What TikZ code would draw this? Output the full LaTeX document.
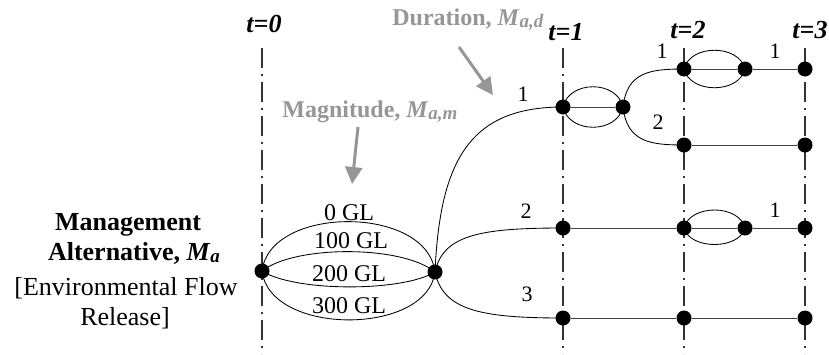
\documentclass[tikz,border=0pt]{standalone}
\usepackage{fontspec}
\setmainfont{Liberation Serif}
\usetikzlibrary{arrows.meta,backgrounds}
\definecolor{lblgray}{RGB}{150,150,150}
\newcommand{\subbi}[1]{\raisebox{-2pt}{\fontsize{19}{19}\selectfont\textbf{\textit{#1}}}}
\begin{document}
\begin{tikzpicture}[x=1pt,y=-1pt,
  dot/.style={circle,fill=black,inner sep=0pt,minimum size=15pt},
  curve/.style={line width=0.85pt,black},
  straight/.style={line width=1pt,black!75},
  timeline/.style={line width=1.1pt,black!80,dash pattern=on 20pt off 6pt on 2pt off 6pt},
  garrow/.style={line width=3pt,lblgray,-{Triangle[length=17pt,width=17pt]}},
  lbl/.style={font=\fontsize{24}{24}\selectfont,anchor=base,inner sep=0pt},
  num/.style={font=\fontsize{22}{22}\selectfont,anchor=base,inner sep=0pt},
  tlbl/.style={font=\fontsize{26}{26}\selectfont\bfseries\itshape,anchor=base,inner sep=0pt},
  lefttxt/.style={font=\fontsize{26}{26}\selectfont,anchor=base,inner sep=0pt},
  leftbold/.style={font=\fontsize{26}{26}\selectfont\bfseries,anchor=base,inner sep=0pt},
  graytxt/.style={font=\fontsize{24}{24}\selectfont\bfseries,text=lblgray,anchor=base,inner sep=0pt}
]
\useasboundingbox (0,0) rectangle (829,354);

% nodes
\node[dot] (A) at (262,271) {};
\node[dot] (B) at (435,272) {};
\node[dot] (C1) at (563,107) {};
\node[dot] (C2) at (623,107) {};
\node[dot] (D1) at (684,69) {};
\node[dot] (D2) at (745,69) {};
\node[dot] (D3) at (805,69) {};
\node[dot] (E1) at (684,145) {};
\node[dot] (E2) at (805,145) {};
\node[dot] (F1) at (563,228) {};
\node[dot] (F2) at (684,228) {};
\node[dot] (F3) at (745,228) {};
\node[dot] (F4) at (805,228) {};
\node[dot] (G1) at (563,318) {};
\node[dot] (G2) at (684,318) {};
\node[dot] (G3) at (805,318) {};

% timeline coordinates
\coordinate (T0t) at (262,48);
\coordinate (T0b) at (262,354);
\coordinate (T1t) at (563,48);
\coordinate (T1b) at (563,354);
\coordinate (T2t) at (684,48);
\coordinate (T2b) at (684,354);
\coordinate (T3t) at (805,48);
\coordinate (T3b) at (805,354);

\begin{pgfonlayer}{background}
  \draw[timeline] (T0t) -- (T0b);
  \draw[timeline] (T1t) -- (T1b);
  \draw[timeline] (T2t) -- (T2b);
  \draw[timeline] (T3t) -- (T3b);

  % magnitude arcs
  \draw[curve] (A.center) .. controls (270,205) and (427,205) .. (B.center);
  \draw[curve] (A.center) .. controls (295,245) and (402,245) .. (B.center);
  \draw[curve] (A.center) .. controls (295,292) and (402,292) .. (B.center);
  \draw[curve] (A.center) .. controls (270,336) and (427,336) .. (B.center);

  % branches from B
  \draw[curve] (B.center) .. controls (440,160) and (470,107) .. (C1.center);
  \draw[curve] (B.center) .. controls (443,235) and (480,228) .. (F1.center);
  \draw[curve] (B.center) .. controls (443,310) and (480,318) .. (G1.center);

  % C ellipse
  \draw[curve] (C1.center) .. controls (569,80) and (617,80) .. (C2.center);
  \draw[curve] (C1.center) .. controls (569,134) and (617,134) .. (C2.center);
  \draw[straight] (C1) -- (C2);

  \draw[curve] (C2.center) .. controls (627,72) and (650,69) .. (D1.center);
  \draw[curve] (C2.center) .. controls (627,142) and (650,145) .. (E1.center);

  % D ellipse
  \draw[curve] (D1.center) .. controls (690,44) and (739,44) .. (D2.center);
  \draw[curve] (D1.center) .. controls (690,94) and (739,94) .. (D2.center);
  \draw[straight] (D1) -- (D2);
  \draw[straight] (D2) -- (D3);
  \draw[straight] (E1) -- (E2);

  % F row
  \draw[straight] (F1) -- (F2);
  \draw[curve] (F2.center) .. controls (690,204) and (739,204) .. (F3.center);
  \draw[curve] (F2.center) .. controls (690,250) and (739,250) .. (F3.center);
  \draw[straight] (F2) -- (F3);
  \draw[straight] (F3) -- (F4);

  % G row
  \draw[straight] (G1) -- (G2);
  \draw[straight] (G2) -- (G3);
\end{pgfonlayer}

% time labels
\node[tlbl] (t0) at (264,32) {t=0};
\node[tlbl] (t1) at (566,40) {t=1};
\node[tlbl] (t2) at (688,38) {t=2};
\node[tlbl] (t3) at (810,38) {t=3};

% magnitude labels
\node[lbl] (g0) at (349,220) {0 GL};
\node[lbl] (g1) at (351,248) {100 GL};
\node[lbl] (g2) at (349,281) {200 GL};
\node[lbl] (g3) at (349,313) {300 GL};

% branch numbers
\node[num] (n1) at (523,101) {1};
\node[num] (n2) at (526,218) {2};
\node[num] (n3) at (527,301) {3};
\node[num] (n4) at (662,58) {1};
\node[num] (n5) at (658,129) {2};
\node[num] (n6) at (775,58) {1};
\node[num] (n7) at (775,217) {1};

% left text
\node[leftbold] (l1) at (128,230) {Management};
\node[leftbold] (l2) at (134,260) {Alternative, \textit{M}\subbi{a}};
\node[lefttxt] (l3) at (126,295) {[Environmental Flow};
\node[lefttxt] (l4) at (125,325) {Release]};

% gray labels and arrows
\node[graytxt] (mag) at (370,117) {Magnitude, \textit{M}\subbi{a,m}};
\node[graytxt] (dur) at (468,25) {Duration, \textit{M}\subbi{a,d}};
\coordinate (magS) at (358,127);
\coordinate (magE) at (352,184);
\coordinate (durS) at (459,47);
\coordinate (durE) at (493,95);
\draw[garrow] (magS) -- (magE);
\draw[garrow] (durS) -- (durE);
\end{tikzpicture}
\end{document}
